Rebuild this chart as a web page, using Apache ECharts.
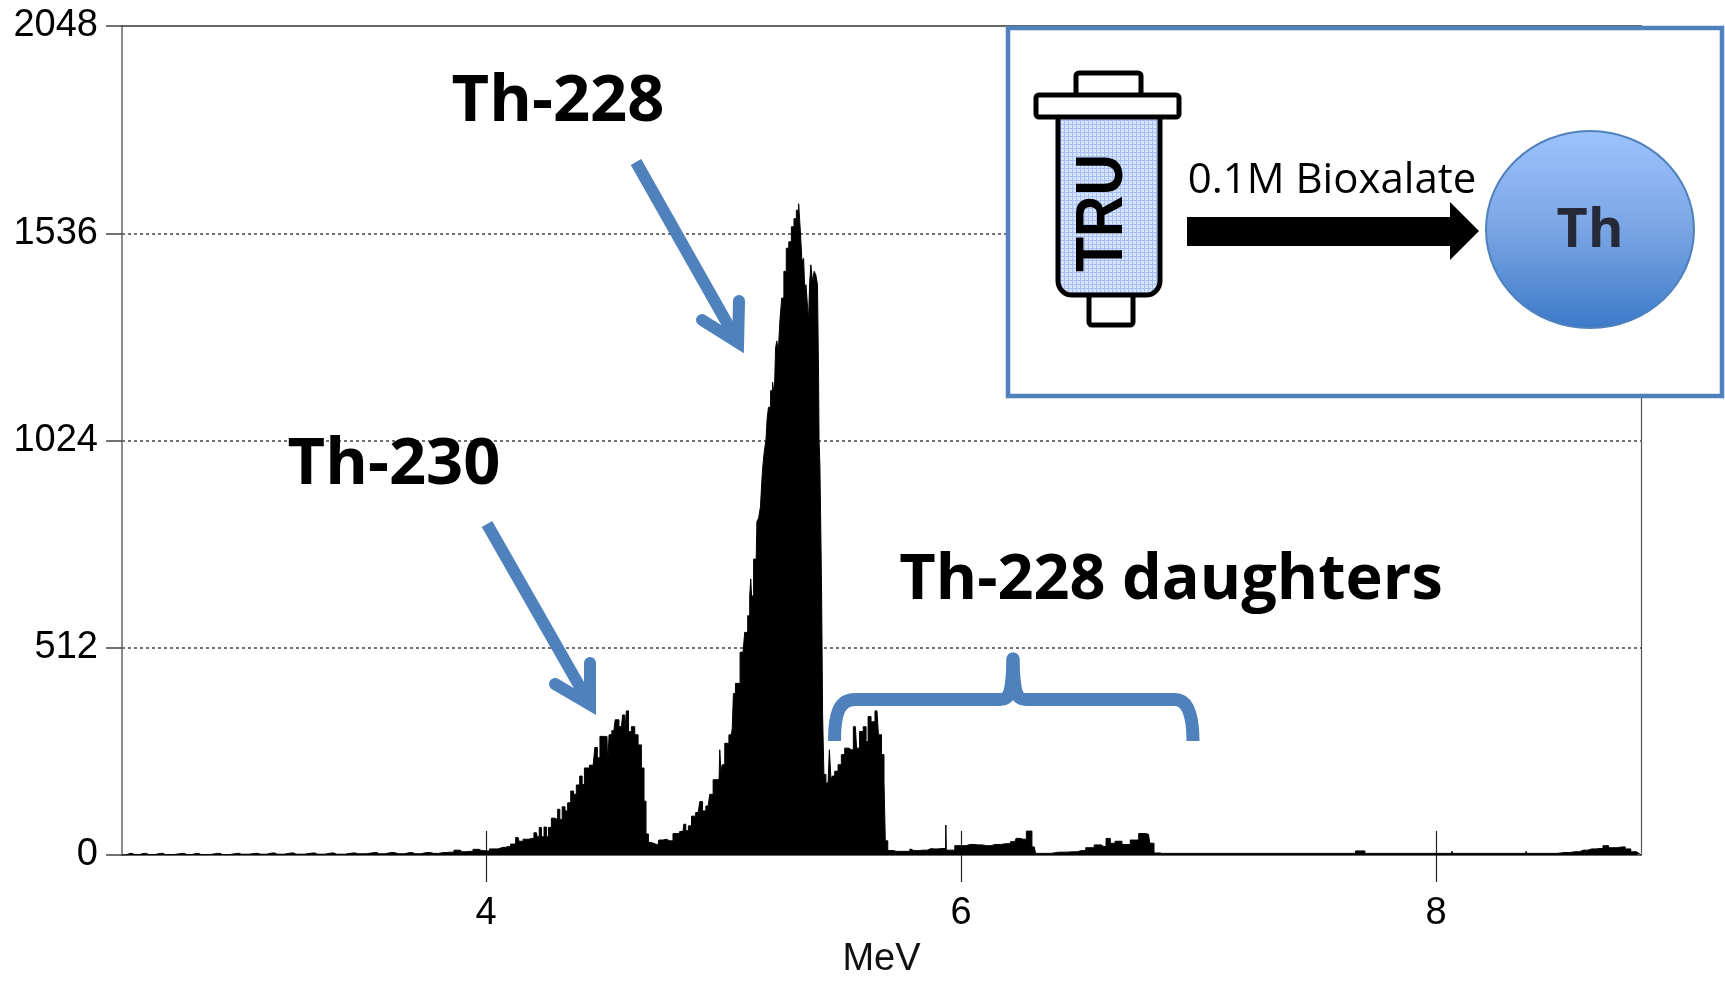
<!DOCTYPE html>
<html>
<head>
<meta charset="utf-8">
<style>html,body{margin:0;padding:0;background:#fff}#c{width:1725px;height:984px}</style>
<script src="https://cdn.jsdelivr.net/npm/echarts@6/dist/echarts.min.js"></script>
</head>
<body>
<div id="c"></div>
<script>
// Spectrum outline: energy (MeV) and counts
const energyMeV = [
2.467,2.50,2.52,2.56,2.58,2.63,2.65,2.72,2.74,2.78,2.80,2.87,2.89,2.95,2.97,3.03,3.05,3.10,3.12,3.18,3.20,3.27,3.29,3.35,3.37,3.44,3.46,3.53,3.55,3.60,3.63,3.68,3.70,3.75,3.78,3.82,3.85,3.88,3.90,3.93,3.96,3.98,4.00,
4.029,4.072,4.093,4.114,4.135,4.142,4.170,4.191,4.212,4.219,4.229,4.237,4.251,4.257,4.268,4.282,4.296,4.307,4.314,4.327,4.338,4.349,4.364,4.373,4.387,4.401,4.408,4.420,4.451,4.465,4.472,4.487,4.509,4.515,4.521,4.538,4.549,4.570,4.580,4.587,4.595,4.605,4.619,4.633,4.647,4.661,4.669,4.678,4.689,4.703,4.724,4.731,4.759,4.773,4.801,4.829,4.836,4.846,4.858,4.872,4.893,4.907,4.916,4.935,4.949,4.963,4.981,4.987,4.991,4.998,5.012,5.033,5.040,5.043,5.057,5.082,5.096,5.107,5.113,
5.116,5.120,5.133,5.140,5.141,5.154,5.157,5.162,5.166,5.175,5.182,5.185,5.193,5.203,5.210,5.217,5.221,5.227,5.234,5.241,5.249,5.259,5.269,5.280,5.291,5.302,5.311,5.321,5.326,5.334,5.340,5.344,5.350,5.354,5.361,5.364,5.371,5.378,5.385,5.392,5.399,5.401,5.403,5.408,5.411,5.415,5.419,5.426,5.436,5.444,5.447,5.451,5.454,5.461,5.475,5.489,5.503,5.517,5.538,5.555,5.565,5.580,5.596,5.604,5.613,5.629,5.646,5.658,5.672,5.679,5.683,5.700,5.728,5.784,5.787,5.790,5.812,5.840,5.875,5.885,5.920,5.935,5.937,5.939,5.944,6.003,6.038,6.073,6.108,6.143,6.190,6.226,6.237,6.261,6.289,6.308,6.320,6.343,6.413,6.472,6.507,6.543,6.578,6.601,6.620,6.637,6.660,6.695,6.730,6.766,6.789,6.801,6.824,6.848,7.177,7.640,7.681,7.720,8.065,8.069,8.074,8.377,8.381,8.385,8.480,8.539,8.585,8.621,8.656,8.691,8.715,8.738,8.785,8.808,8.832,8.855,8.863];
const counts = [
0,4,1,4,1,4,1,4,1,4,1,4,1,4,2,4,2,5,2,5,2,5,2,5,2,5,3,6,3,6,3,6,3,6,4,6,7,12,8,9,14,11,10,
15,19,21,27,43,34,39,41,55,45,68,45,69,45,68,91,88,113,88,119,109,129,158,150,173,195,174,215,222,266,240,293,293,227,297,307,334,317,346,305,356,305,317,297,272,215,133,52,31,27,25,37,39,35,53,58,76,60,72,96,105,132,109,121,150,186,186,260,207,223,276,297,313,399,424,501,550,591,640,
682,640,731,706,824,832,861,906,952,992,1025,1078,1106,1147,1168,1131,1253,1270,1245,1323,1376,1442,1499,1515,1552,1572,1593,1609,1540,1466,1474,1393,1409,1368,1319,1413,1458,1417,1442,1433,1409,1180,1025,967,800,633,346,199,178,182,260,256,185,195,207,223,248,264,260,317,264,305,317,280,342,329,356,297,248,182,35,11,9,9,15,11,11,12,16,15,16,16,74,12,12,23,26,25,23,26,28,33,41,39,59,20,4,4,7,8,11,18,25,21,41,29,34,26,37,53,51,29,5,4,4,4,10,4,4,9,4,4,9,4,4,6,8,12,15,16,23,18,20,15,8,4,0];
const xTickValues = [4, 6, 8];
const yTickValues = [0, 512, 1024, 1536, 2048];
const xRange = [2.467, 8.863];
const yRange = [0, 2048];
const peakLabels = ['Th-228', 'Th-230', 'Th-228 daughters'];
const insetLabels = ['TRU', '0.1M Bioxalate', 'Th'];

const blue = '#4f81bd';
const tickFont = '"Liberation Sans", Arial, sans-serif';
const calloutFont = '"Open Sans", sans-serif';

const hatch = document.createElement('canvas');
hatch.width = 4; hatch.height = 4;
(function () {
  const g = hatch.getContext('2d');
  g.fillStyle = '#d8e4fc'; g.fillRect(0, 0, 4, 4);
  g.fillStyle = '#a6bff4'; g.fillRect(0, 0, 4, 1); g.fillRect(0, 0, 1, 4);
})();

function arrow(sx, sy, tipx, tipy, b1x, b1y, b2x, b2y) {
  const d = Math.hypot(tipx - sx, tipy - sy), ux = (tipx - sx) / d, uy = (tipy - sy) / d;
  const cx = tipx - 12 * ux, cy = tipy - 12 * uy;
  return [
    { type: 'polyline', z: 20, shape: { points: [[sx, sy], [cx - 6 * ux, cy - 6 * uy]] }, style: { stroke: blue, lineWidth: 12, fill: null } },
    { type: 'polyline', z: 20, shape: { points: [[b1x, b1y], [cx, cy], [b2x, b2y]] }, style: { stroke: blue, lineWidth: 12, fill: null, lineCap: 'round', lineJoin: 'miter', miterLimit: 10 } }
  ];
}
function curve(x1, y1, c1x, c1y, c2x, c2y, x2, y2, cap) {
  return { type: 'bezierCurve', z: 20, shape: { x1: x1, y1: y1, cpx1: c1x, cpy1: c1y, cpx2: c2x, cpy2: c2y, x2: x2, y2: y2 }, style: { stroke: blue, lineWidth: 13, fill: null, lineCap: cap || 'butt' } };
}
function straight(x1, y1, x2, y2) {
  return { type: 'line', z: 20, shape: { x1: x1, y1: y1, x2: x2, y2: y2 }, style: { stroke: blue, lineWidth: 13 } };
}
function label(text, x, y, font, extra) {
  return Object.assign({ type: 'text', z: 30, style: { text: text, x: x, y: y, font: font, fill: '#000', textAlign: 'center', textVerticalAlign: 'middle' } }, extra || {});
}

const graphics = [].concat(
  arrow(636, 162, 744, 353, 739, 301, 702, 320),
  arrow(487, 524, 596, 715, 590, 663, 555, 684),
  [
    curve(834.5, 741, 834.5, 716, 838, 699.5, 855, 699.5),
    straight(854, 699.5, 1001, 699.5),
    curve(1000, 699.5, 1009, 699.5, 1012, 695, 1013, 659, 'round'),
    curve(1026, 699.5, 1017, 699.5, 1014, 695, 1013, 659, 'round'),
    straight(1025, 699.5, 1176, 699.5),
    curve(1175, 699.5, 1188, 699.5, 1193, 716, 1193, 741),
    label(peakLabels[0], 558, 102, 'bold 65px ' + calloutFont),
    label(peakLabels[1], 394, 465, 'bold 65px ' + calloutFont),
    label(peakLabels[2], 1171, 581, 'bold 63px ' + calloutFont),
    // Inset box
    { type: 'rect', z: 40, shape: { x: 1008, y: 28, width: 714, height: 368 }, style: { fill: '#fff', stroke: blue, lineWidth: 4.5 } },
    { type: 'rect', z: 41, shape: { x: 1076, y: 73, width: 65, height: 24, r: 3 }, style: { fill: '#fff', stroke: '#000', lineWidth: 5 } },
    { type: 'rect', z: 41, shape: { x: 1089, y: 290, width: 44, height: 35, r: 3 }, style: { fill: '#fff', stroke: '#000', lineWidth: 5 } },
    { type: 'rect', z: 42, shape: { x: 1058, y: 112, width: 102, height: 183, r: [0, 0, 14, 14] }, style: { fill: { image: hatch, repeat: 'repeat' }, stroke: '#000', lineWidth: 5 } },
    { type: 'rect', z: 43, shape: { x: 1036, y: 95, width: 143, height: 22, r: 3 }, style: { fill: '#fff', stroke: '#000', lineWidth: 5 } },
    { type: 'text', z: 44, x: 1104, y: 213, rotation: Math.PI / 2, scaleX: 0.87, style: { text: insetLabels[0], x: 0, y: 0, font: 'bold 66px ' + tickFont, fill: '#000', textAlign: 'center', textVerticalAlign: 'middle' } },
    Object.assign(label(insetLabels[1], 1332, 181, '42px ' + calloutFont), { z: 44 }),
    { type: 'polygon', z: 44, shape: { points: [[1187, 217], [1450, 217], [1450, 202], [1479, 231], [1450, 260], [1450, 246], [1187, 246]] }, style: { fill: '#000' } },
    { type: 'ellipse', z: 44, shape: { cx: 1590, cy: 229.5, rx: 104, ry: 98.5 }, style: { stroke: blue, lineWidth: 2, fill: { type: 'linear', x: 0, y: 0, x2: 0, y2: 1, colorStops: [{ offset: 0, color: '#9dc3fc' }, { offset: 0.5, color: '#7aa5e4' }, { offset: 1, color: '#3b79c8' }] } } },
    { type: 'text', z: 45, style: { text: insetLabels[2], x: 1590, y: 232, font: 'bold 54px ' + calloutFont, fill: '#262a38', textAlign: 'center', textVerticalAlign: 'middle' } }
  ]
);

const chart = echarts.init(document.getElementById('c'), null, { renderer: 'canvas' });
chart.setOption({
  animation: false,
  backgroundColor: '#fff',
  grid: { left: 122, top: 26, width: 1519, height: 835, containLabel: false },
  xAxis: [
    {
      type: 'value', position: 'bottom', min: xRange[0], max: xRange[1],
      name: 'MeV', nameLocation: 'middle', nameGap: 86,
      nameTextStyle: { fontFamily: tickFont, fontSize: 38, color: '#111' },
      axisLine: { show: true, onZero: false, lineStyle: { color: '#666', width: 2 } },
      axisTick: { show: true, length: 27, customValues: xTickValues, lineStyle: { color: '#222', width: 1.2 } },
      axisLabel: { show: true, margin: 40, customValues: xTickValues, fontFamily: tickFont, fontSize: 38, color: '#000', formatter: function (v) { return String(v); } },
      splitLine: { show: false }
    },
    {
      type: 'value', position: 'bottom', min: xRange[0], max: xRange[1],
      axisLine: { show: false, onZero: false },
      axisTick: { show: true, inside: true, length: 24, customValues: xTickValues, lineStyle: { color: '#222', width: 1.2 } },
      axisLabel: { show: false },
      splitLine: { show: false }
    },
    {
      type: 'value', position: 'top', min: xRange[0], max: xRange[1],
      axisLine: { show: true, onZero: false, lineStyle: { color: '#333', width: 1.5 } },
      axisTick: { show: false }, axisLabel: { show: false }, splitLine: { show: false }
    }
  ],
  yAxis: [
    {
      type: 'value', position: 'left', min: yRange[0], max: yRange[1], interval: 512,
      axisLine: { show: true, onZero: false, lineStyle: { color: '#666', width: 1.5 } },
      axisTick: { show: true, length: 16, lineStyle: { color: '#444', width: 1.5 } },
      axisLabel: { show: true, margin: 24, fontFamily: tickFont, fontSize: 38, color: '#000', showMinLabel: true, showMaxLabel: true,
        customValues: yTickValues, formatter: function (v) { return String(v); } },
      splitLine: { show: true, showMinLine: false, showMaxLine: false, lineStyle: { color: '#444', width: 1.5, type: [3, 3] } }
    },
    {
      type: 'value', position: 'right', min: yRange[0], max: yRange[1], interval: 512,
      axisLine: { show: true, onZero: false, lineStyle: { color: '#555', width: 1.2 } },
      axisTick: { show: false }, axisLabel: { show: false }, splitLine: { show: false }
    }
  ],
  series: [{
    type: 'line', step: 'middle', xAxisIndex: 0, yAxisIndex: 0, silent: true, showSymbol: false, sampling: 'none', z: 5,
    lineStyle: { color: '#000', width: 1 },
    areaStyle: { color: '#000', opacity: 1 },
    data: energyMeV.map(function (e, i) { return [e, counts[i]]; })
  }],
  graphic: { elements: graphics }
});
</script>
</body>
</html>
